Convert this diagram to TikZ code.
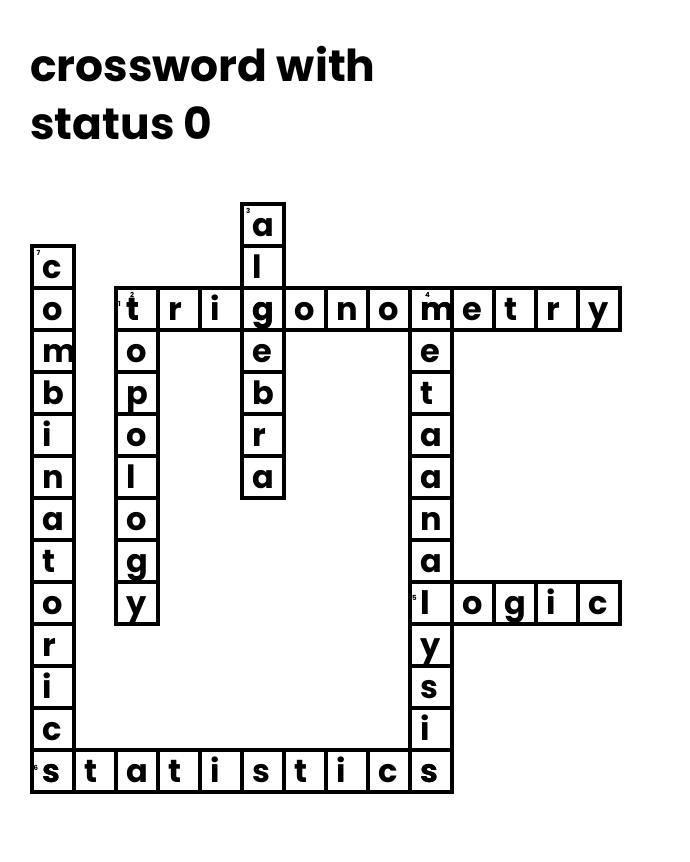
\documentclass[tikz,border=0pt]{standalone}
\usepackage{fontspec}
\setmainfont{Poppins}
\newcommand\placeword[6]{%
  \foreach \ch [count=\i from 0] in {#6} {
    \pgfmathsetmacro\cx{32+42*(#2+#4*\i)}
    \pgfmathsetmacro\cy{862-204-42*(#3+#5*\i)}
    \node[cell] (#1\i) at (\cx+21,\cy-21) {};
    \node[letter] (#1L\i) at (\cx+10.5,\cy-33) {\ch};
  }}
\begin{document}
\begin{tikzpicture}[x=1pt,y=1pt,
  cell/.style={draw, line width=4pt, minimum size=42pt, inner sep=0pt, outer sep=0pt},
  letter/.style={anchor=base west, inner sep=0pt, font=\fontsize{32}{32}\selectfont\bfseries},
  clue/.style={anchor=north west, inner sep=0pt, font=\fontsize{7}{7}\selectfont\bfseries},
  title/.style={anchor=base west, inner sep=0pt, font=\fontsize{44}{44}\selectfont\bfseries}]
\useasboundingbox[fill=white] (0,0) rectangle (690,862);
\node[title] (t1) at (30,780) {crossword with};
\node[title] (t2) at (30,722) {status 0};
\placeword{cb}{0}{1}{0}{1}{c,o,m,b,i,n,a,t,o,r,i,c,s}
\placeword{tp}{2}{2}{0}{1}{t,o,p,o,l,o,g,y}
\placeword{al}{5}{0}{0}{1}{a,l,g,e,b,r,a}
\placeword{ma}{9}{2}{0}{1}{m,e,t,a,a,n,a,l,y,s,i,s}
\placeword{tr}{2}{2}{1}{0}{t,r,i,g,o,n,o,m,e,t,r,y}
\placeword{lg}{9}{9}{1}{0}{l,o,g,i,c}
\placeword{st}{0}{13}{1}{0}{s,t,a,t,i,s,t,i,c,s}
\node[clue] (n1) at (118,561) {1};
\node[clue] (n2) at (130,570) {2};
\node[clue] (n3) at (246,654) {3};
\node[clue] (n4) at (425,569.5) {4};
\node[clue] (n5) at (412,267) {5};
\node[clue] (n6) at (33.5,97) {6};
\node[clue] (n7) at (36.5,612) {7};
\end{tikzpicture}
\end{document}
